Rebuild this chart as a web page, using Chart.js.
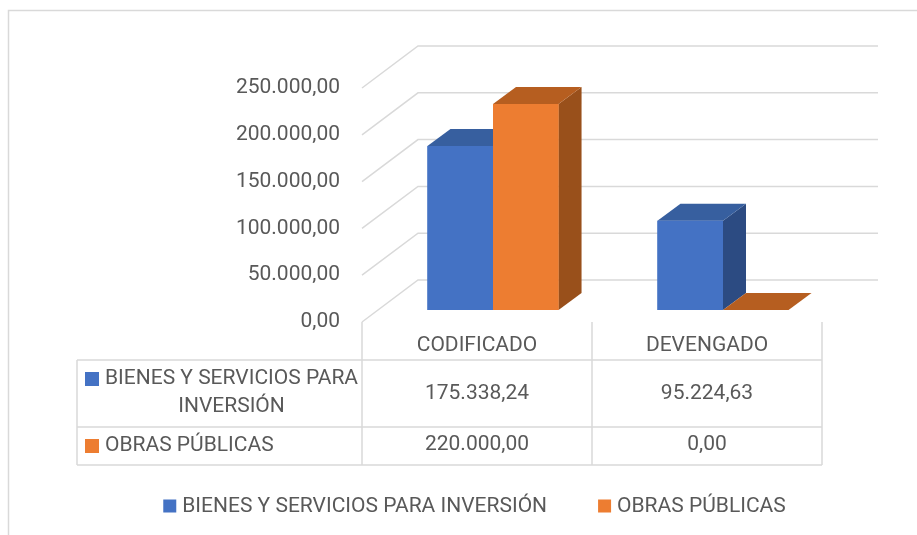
<!DOCTYPE html>
<html>
<head>
<meta charset="utf-8">
<script src="https://cdn.jsdelivr.net/npm/chart.js@4.4.0/dist/chart.umd.min.js"></script>
<style>
  html, body { margin: 0; padding: 0; background: #fff; }
  #chart { display: block; }
</style>
</head>
<body>
<canvas id="chart" width="917" height="535"></canvas>
<script>
// datos
const categories = ['CODIFICADO', 'DEVENGADO'];
const seriesNames = ['BIENES Y SERVICIOS PARA INVERSIÓN', 'OBRAS PÚBLICAS'];
const bienes = [175338.24, 95224.63];
const obras = [220000.00, 0.00];
const yTicks = [0, 50000, 100000, 150000, 200000, 250000];

const FONT = 'Roboto, "Liberation Sans", sans-serif';
const TEXT = '#595959';
const LINE = '#d9d9d9';
const fronts = ['#4472c4', '#ed7d31'];
const tops   = ['#375f9f', '#b65e20'];
const sides  = ['#2c4b82', '#99501b'];

// perspectiva: plano de barras -> frente del piso / pared del fondo
const FRONT = { dx: -16, dy: 12 };
const BACK  = { dx: 40,  dy: -30 };
const DEPTH = { dx: 23,  dy: -17 };

function fmt(v) {
  const p = Number(v).toFixed(2).split('.');
  p[0] = p[0].replace(/\B(?=(\d{3})+(?!\d))/g, '.');
  return p[0] + ',' + p[1];
}

function poly(ctx, pts, color) {
  ctx.beginPath();
  ctx.moveTo(pts[0][0], pts[0][1]);
  for (let i = 1; i < pts.length; i++) ctx.lineTo(pts[i][0], pts[i][1]);
  ctx.closePath();
  ctx.fillStyle = color;
  ctx.fill();
}

const plot3d = {
  id: 'plot3d',
  beforeDraw(chart) {
    const ctx = chart.ctx;
    ctx.save();
    ctx.strokeStyle = LINE;
    ctx.lineWidth = 1.5;
    ctx.strokeRect(8.5, 10.5, 1200, 1200);
    ctx.restore();
  },
  beforeDatasetsDraw(chart) {
    const ctx = chart.ctx, a = chart.chartArea, y = chart.scales.y;
    ctx.save();
    ctx.strokeStyle = LINE;
    ctx.lineWidth = 1.5;
    yTicks.forEach(v => {
      const py = y.getPixelForValue(v);
      ctx.beginPath();
      ctx.moveTo(a.left + FRONT.dx, py + FRONT.dy);
      ctx.lineTo(a.left + BACK.dx, py + BACK.dy);
      ctx.lineTo(a.right + BACK.dx, py + BACK.dy);
      ctx.stroke();
    });
    ctx.restore();
  },
  afterDatasetsDraw(chart) {
    // caras laterales y superiores, de izquierda a derecha, luego la cara frontal encima
    const ctx = chart.ctx;
    const metas = chart.data.datasets.map((d, i) => chart.getDatasetMeta(i));
    ctx.save();
    categories.forEach((c, k) => {
      metas.forEach((meta, i) => {
        const bar = meta.data[k];
        const p = bar.getProps(['x', 'y', 'base', 'width'], true);
        const l = p.x - p.width / 2, r = p.x + p.width / 2;
        poly(ctx, [[r, p.y], [r + DEPTH.dx, p.y + DEPTH.dy], [r + DEPTH.dx, p.base + DEPTH.dy], [r, p.base]], sides[i]);
        poly(ctx, [[l, p.y], [r, p.y], [r + DEPTH.dx, p.y + DEPTH.dy], [l + DEPTH.dx, p.y + DEPTH.dy]], tops[i]);
        bar.draw(ctx, chart.chartArea);
      });
    });
    ctx.restore();
  },
  afterDraw(chart) {
    const ctx = chart.ctx, x = chart.scales.x, y = chart.scales.y;
    const floorY = y.getPixelForValue(0) + FRONT.dy;
    const half = (x.getPixelForValue(1) - x.getPixelForValue(0)) / 2;
    const cols = [x.getPixelForValue(0) - half + FRONT.dx];
    categories.forEach((c, k) => cols.push(x.getPixelForValue(k) + half + FRONT.dx));
    const tLeft = 77, rows = [360, 427, 465];
    ctx.save();
    ctx.strokeStyle = LINE;
    ctx.lineWidth = 1.5;
    ctx.beginPath();
    cols.forEach(cx => { ctx.moveTo(cx, floorY); ctx.lineTo(cx, rows[2]); });
    ctx.moveTo(tLeft, rows[0]); ctx.lineTo(tLeft, rows[2]);
    rows.forEach(ry => { ctx.moveTo(tLeft, ry); ctx.lineTo(cols[cols.length - 1], ry); });
    ctx.stroke();

    ctx.font = '21px ' + FONT;
    ctx.fillStyle = TEXT;
    ctx.textBaseline = 'middle';
    ctx.textAlign = 'center';
    categories.forEach((c, k) => ctx.fillText(c, x.getPixelForValue(k) + FRONT.dx, 346));
    const series = [bienes, obras];
    const rowMid = [394, 445];
    series.forEach((vals, s) => {
      vals.forEach((v, k) => ctx.fillText(fmt(v), x.getPixelForValue(k) + FRONT.dx, rowMid[s]));
    });
    // nombres de serie en la tabla
    ctx.textAlign = 'left';
    ctx.fillStyle = fronts[0];
    ctx.fillRect(85, 372, 14, 14);
    ctx.fillStyle = TEXT;
    const line1 = 'BIENES Y SERVICIOS PARA';
    const w1 = ctx.measureText(line1).width;
    ctx.fillText(line1, 105, 379);
    ctx.textAlign = 'center';
    ctx.fillText('INVERSIÓN', 105 + w1 / 2, 407);
    ctx.textAlign = 'left';
    ctx.fillStyle = fronts[1];
    ctx.fillRect(85, 439, 14, 14);
    ctx.fillStyle = TEXT;
    ctx.fillText(seriesNames[1], 105, 446);

    // leyenda
    const box = 13, gapText = 6, gapItem = 51;
    const wA = ctx.measureText(seriesNames[0]).width;
    const wB = ctx.measureText(seriesNames[1]).width;
    const total = box + gapText + wA + gapItem + box + gapText + wB;
    let lx = 474.5 - total / 2;
    const ly = 506;
    ctx.fillStyle = fronts[0];
    ctx.fillRect(lx, ly - 6.5, box, box);
    ctx.fillStyle = TEXT;
    ctx.fillText(seriesNames[0], lx + box + gapText, ly + 1);
    lx += box + gapText + wA + gapItem;
    ctx.fillStyle = fronts[1];
    ctx.fillRect(lx, ly - 6.5, box, box);
    ctx.fillStyle = TEXT;
    ctx.fillText(seriesNames[1], lx + box + gapText, ly + 1);
    ctx.restore();
  }
};

new Chart(document.getElementById('chart'), {
  type: 'bar',
  data: {
    labels: categories,
    datasets: [
      { label: seriesNames[0], data: bienes, backgroundColor: fronts[0], borderWidth: 0 },
      { label: seriesNames[1], data: obras, backgroundColor: fronts[1], borderWidth: 0 }
    ]
  },
  options: {
    responsive: false,
    animation: false,
    categoryPercentage: 0.57,
    barPercentage: 1.0,
    layout: { padding: { top: 76, right: 79, bottom: 0, left: 0 } },
    scales: {
      x: {
        display: true,
        grid: { display: false, drawTicks: false },
        border: { display: false },
        ticks: { display: false },
        afterFit(s) { s.height = 225; }
      },
      y: {
        min: 0,
        max: 250000,
        afterBuildTicks(s) { s.ticks = yTicks.map(v => ({ value: v })); },
        grid: { display: false, drawTicks: false },
        border: { display: false },
        ticks: {
          padding: 38,
          labelOffset: 12,
          color: TEXT,
          font: { family: FONT, size: 21 },
          callback: v => fmt(v)
        },
        afterFit(s) { s.width = 378; }
      }
    },
    plugins: {
      legend: { display: false },
      tooltip: { enabled: false }
    }
  },
  plugins: [plot3d]
});
</script>
</body>
</html>
